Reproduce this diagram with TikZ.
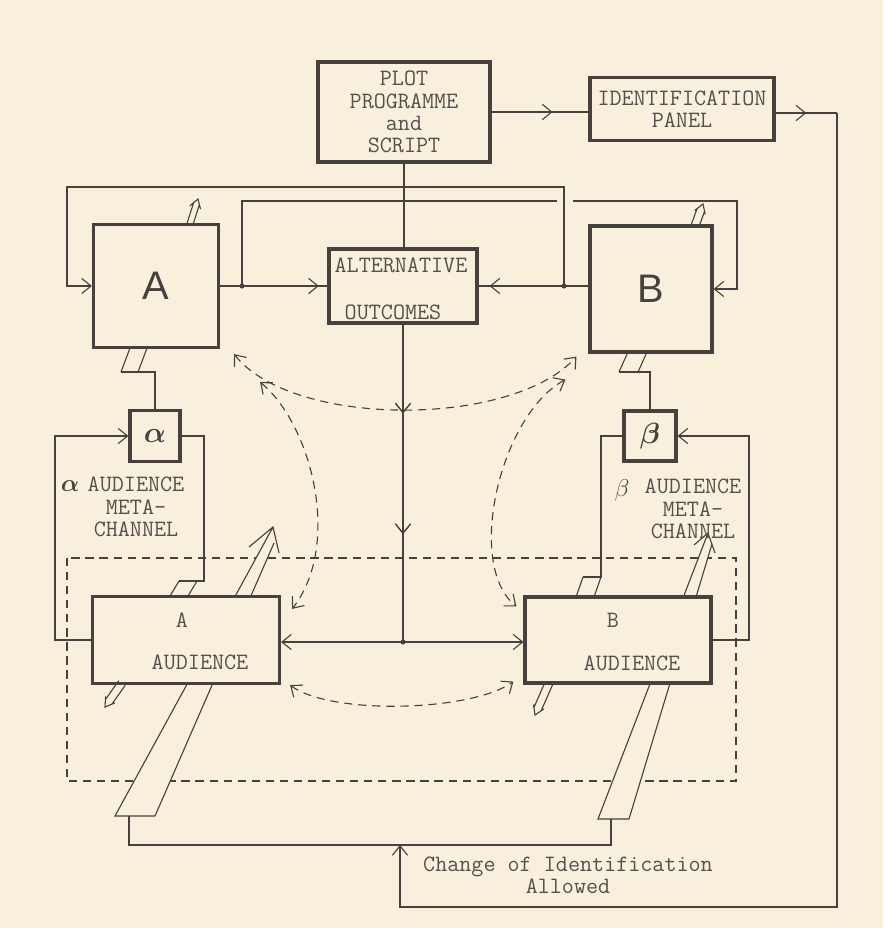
\documentclass[tikz,border=0pt]{standalone}
\usepackage{amsmath}
\usepackage{fontspec}
\newfontfamily\handsf{Liberation Sans}
\usetikzlibrary{arrows.meta, calc, decorations.markings}

\definecolor{paper}{RGB}{249,239,221}
\definecolor{ink}{RGB}{70,65,60}
\definecolor{typeink}{RGB}{85,80,75}

\newcommand{\dblarrow}[4]{%
  \coordinate (dabase) at (#1);
  \coordinate (datip) at (#2);
  \coordinate (daneck) at ($(datip)!#4!(dabase)$);
  \draw[wire] ($(dabase)!#3!90:(datip)$) -- ($(daneck)!#3!90:(datip)$)
    ($(dabase)!#3!-90:(datip)$) -- ($(daneck)!#3!-90:(datip)$)
    ($(datip)!9pt!32:(dabase)$) -- (datip) -- ($(datip)!9pt!-32:(dabase)$);}

\begin{document}
\begin{tikzpicture}[
    x=0.03cm, y=-0.03cm,
    >={Straight Barb[length=8pt,width=13pt]},
    wire/.style={ink, line width=0.95pt},
    block/.style={draw=ink, line width=2.7pt, fill=paper, inner sep=0pt},
    typed/.style={font=\ttfamily\fontsize{20}{19}\selectfont, text=typeink, align=center, inner sep=0pt},
    hand/.style={font=\handsf\fontsize{34}{34}\selectfont, text=ink},
    flow/.style={postaction={decorate}, decoration={markings, mark=at position #1 with {\arrow{>}}}},
    hint/.style={ink, line width=0.95pt, dash pattern=on 7pt off 5pt, <->},
    frame/.style={ink, line width=0.95pt, dash pattern=on 7pt off 5pt}
  ]
  \fill[paper] (0,0) rectangle (883,928);
  \useasboundingbox (0,0) rectangle (883,928);

  \draw[frame] (67,558) rectangle (736,781);

  % identification bars through the audiences
  \coordinate (barAl) at (115,816);
  \coordinate (barAr) at (155,816);
  \coordinate (barAtip) at (273,527);
  \coordinate (barAtop) at (274,543);
  \fill[paper] (barAl) -- (barAtip) -- (barAtop) -- (barAr) -- cycle;
  \draw[wire] (barAr) -- (barAl) -- (barAtip) (barAr) -- (barAtop)
    (249,547) -- (barAtip) -- (279,553);
  \coordinate (barBl) at (598,819);
  \coordinate (barBr) at (629,819);
  \coordinate (barBtip) at (708,533);
  \coordinate (barBtop) at (712,544);
  \fill[paper] (barBl) -- (barBtip) -- (barBtop) -- (barBr) -- cycle;
  \draw[wire] (barBr) -- (barBl) -- (barBtip) (barBr) -- (barBtop)
    (694,545) -- (barBtip) -- (715,553);

  \node[block, typed, minimum width=5.16cm, minimum height=3cm] (plot) at (404,112)
    {PLOT\\PROGRAMME\\and\\SCRIPT};
  \node[block, typed, minimum width=5.52cm, minimum height=1.89cm] (ident) at (682,109)
    {IDENTIFICATION\\PANEL};
  \node[block, hand, minimum width=3.75cm, minimum height=3.69cm] (boxA) at (156,286) {A};
  \node[block, hand, minimum width=3.66cm, minimum height=3.78cm] (boxB) at (651,289) {B};
  \node[block, minimum width=4.44cm, minimum height=2.22cm] (alt) at (403,286) {};
  \node[typed] (altup) at (401,265) {ALTERNATIVE};
  \node[typed] (altdown) at (393,312) {OUTCOMES};
  \node[block, hand, font=\fontsize{28}{28}\selectfont, minimum width=1.5cm, minimum height=1.53cm]
    (alpha) at (155,436) {$\boldsymbol{\alpha}$};
  \node[block, hand, font=\fontsize{28}{28}\selectfont, minimum width=1.56cm, minimum height=1.5cm]
    (beta) at (650,436) {$\boldsymbol{\beta}$};
  \node[block, minimum width=5.61cm, minimum height=2.61cm] (audA) at (186,640) {};
  \node[typed] (audAlet) at (182,620) {A};
  \node[typed] (audAname) at (200,662) {AUDIENCE};
  \node[block, minimum width=5.58cm, minimum height=2.58cm] (audB) at (618,640) {};
  \node[typed] (audBlet) at (613,620) {B};
  \node[typed] (audBname) at (632,663) {AUDIENCE};

  \node[typed, text=ink] (alphatag) at (70,486) {$\boldsymbol{\alpha}$};
  \node[typed] (metaA) at (136,507) {AUDIENCE\\META-\\CHANNEL};
  \node[typed, text=ink] (betatag) at (622,490) {$\beta$};
  \node[typed] (metaB) at (693,509) {AUDIENCE\\META-\\CHANNEL};
  \node[typed] (chgtxt) at (568,875) {Change of Identification\\Allowed};

  % programme and panel
  \coordinate (ne) at (837,113);
  \coordinate (sw) at (400,907);
  \coordinate (chg) at (400,845);
  \draw[wire, flow=0.63] (plot.east) -- (plot.east -| ident.west);
  \draw[wire, flow=0.5] (ident.east |- ne) -- (ne);
  \draw[wire, ->] (ne) |- (sw) -- (chg);
  \coordinate (footA) at (129,816);
  \coordinate (footB) at (611,819);
  \draw[wire] (footA) |- (chg) -| (footB);
  \draw[wire] (plot.south) -- (plot.south |- alt.north);

  % players and outcomes
  \coordinate (jA) at (242,286);
  \coordinate (jB) at (564,286);
  \coordinate (loopA) at (67,187);
  \coordinate (hopL) at (557,201);
  \coordinate (hopR) at (573,201);
  \coordinate (loopB) at (737,201);
  \draw[wire, flow=0.92] (boxA.east |- alt.west) -- (alt.west);
  \draw[wire, flow=0.9] (boxB.west |- alt.east) -- (alt.east);
  \draw[wire, ->] (jB) |- (loopA) |- (boxA.west);
  \draw[wire] (jA) |- (hopL);
  \draw[wire, ->] (hopR) -- (loopB) |- (boxB.east);
  \fill[ink] (jA) circle[radius=2.2pt] (jB) circle[radius=2.2pt];

  % meta-channels
  \foreach \x in {130,147} \draw[wire] (\x,348) -- ++(-9,24);
  \coordinate (kinkA) at (155,372);
  \draw[wire] (121,372) -- (kinkA) -- (alpha.north);
  \foreach \x in {628,647} \draw[wire] (\x,352) -- ++(-9,20);
  \coordinate (kinkB) at (650,372);
  \draw[wire] (619,372) -- (kinkB) -- (beta.north);
  \coordinate (alphaL) at (55,436);
  \draw[wire, ->] (audA.west) -| (alphaL) -- (alpha.west);
  \coordinate (stubA) at (204,581);
  \draw[wire] (alpha.east) -| (stubA) -- ++(-25,0);
  \foreach \x in {179,197} \draw[wire] (\x,581) -- ++(-9,15);
  \coordinate (stubB) at (601,577);
  \draw[wire] (beta.west) -| (stubB) -- ++(-18,0);
  \foreach \x in {583,601} \draw[wire] (\x,577) -- ++(-7,20);
  \coordinate (betaR) at (749,436);
  \draw[wire, ->] (audB.east) -| (betaR) -- (beta.east);

  % outcomes to audiences
  \coordinate (hub) at (403,642);
  \draw[wire, flow=0.28, flow=0.66] (alt.south) -- (hub);
  \draw[wire, ->] (hub) -- (hub -| audA.east);
  \draw[wire, ->] (hub) -- (hub -| audB.west);
  \fill[ink] (hub) circle[radius=2.2pt];

  % identifications
  \draw[hint] ($(boxA.south east)+(14,5)$) .. controls (292,428) and (512,428) .. ($(boxB.south west)+(-12,3)$);
  \draw[hint] ($(boxA.south east)+(40,33)$) .. controls (312,425) and (342,545) .. ($(audA.north east)+(11,14)$);
  \draw[hint] ($(boxB.south west)+(-23,26)$) .. controls (500,415) and (465,565) .. ($(audB.north west)+(-7,11)$);
  \draw[hint] ($(audA.south east)+(9,0)$) .. controls (330,715) and (470,712) .. ($(audB.south west)+(-10,-3)$);

  \dblarrow{190,224}{198,199}{2.6pt}{4.2pt}
  \dblarrow{695,226}{703,204}{3.4pt}{5.4pt}
  \dblarrow{122,683}{105,707}{3.4pt}{5.4pt}
  \dblarrow{549,683}{535,715}{3.4pt}{5.4pt}
\end{tikzpicture}
\end{document}
